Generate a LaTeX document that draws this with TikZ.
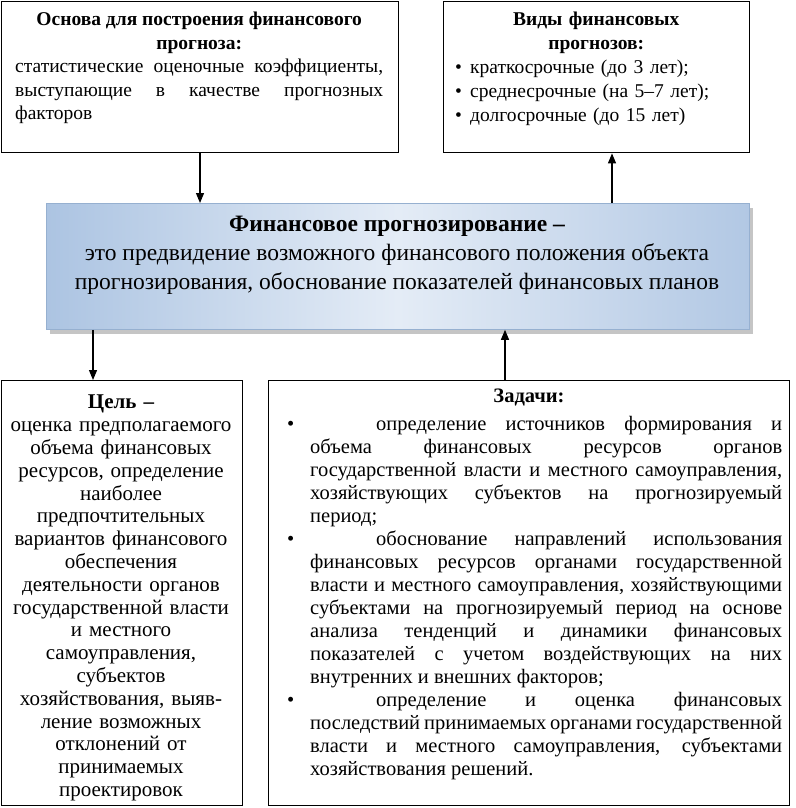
\documentclass[tikz,border=0pt]{standalone}
\usepackage{fontspec}
\setmainfont{Liberation Serif}
\usetikzlibrary{arrows.meta,shadows}
\definecolor{cleft}{RGB}{172,196,226}
\definecolor{cmid}{RGB}{228,236,246}
\definecolor{cright}{RGB}{178,200,228}
\definecolor{cborder}{RGB}{150,176,208}
\begin{document}
\begin{tikzpicture}[x=1pt,y=-1pt,
  frame/.style={draw=black, line width=1.4pt, anchor=north west, inner sep=0pt},
  mainbox/.style={draw=cborder, line width=0.8pt, anchor=north west, inner sep=0pt,
    left color=cleft, right color=cright, middle color=cmid,
    drop shadow={shadow xshift=4pt, shadow yshift=-5pt, fill=black!45}},
  arr/.style={line width=1.2pt, -{Triangle[length=10pt,width=8pt]}},
  txt/.style={inner sep=0pt, font=\fontsize{19.5}{23.5}\selectfont},
  goaltxt/.style={inner sep=0pt, font=\fontsize{21}{22.8}\selectfont},
  tasktxt/.style={inner sep=0pt, font=\fontsize{20.5}{23}\selectfont},
  bigtxt/.style={inner sep=0pt, font=\fontsize{23.5}{29}\selectfont}
]
\useasboundingbox (0,0) rectangle (795,808);
\fill[white] (0,0) rectangle (795,808);

% frames
\node[frame, minimum width=397pt, minimum height=151pt] (b1) at (1,1) {};
\node[frame, minimum width=306pt, minimum height=151pt] (b2) at (443,1) {};
\node[mainbox, minimum width=703pt, minimum height=126pt] (main) at (46,203) {};
\node[frame, minimum width=241pt, minimum height=425pt] (goal) at (1,380) {};
\node[frame, minimum width=521pt, minimum height=425pt] (tasks) at (268,380) {};

% texts
\node[txt, anchor=north west, text width=368pt, align=justify] (t1) at (15,12) {%
  \parindent=0pt
  {\centering\bfseries Основа для построения финансового\\ прогноза:\par}
  статистические оценочные коэффициенты,\linebreak
  выступающие в качестве прогнозных\linebreak
  факторов};

\node[txt, anchor=north west, text width=282pt, font=\fontsize{19.5}{24}\selectfont] (t2) at (455,12) {%
  \parindent=0pt
  {\centering\bfseries Виды финансовых\\ прогнозов:\par}
  \raggedright
  \makebox[15pt][l]{•}краткосрочные (до 3 лет);\\
  \makebox[15pt][l]{•}среднесрочные (на 5–7 лет);\\
  \makebox[15pt][l]{•}долгосрочные (до 15 лет)};

\node[bigtxt, anchor=north, align=center] (t3) at (397,216) {%
  {\bfseries Финансовое прогнозирование –}\\
  это предвидение возможного финансового положения объекта\\
  прогнозирования, обоснование показателей финансовых планов};

\node[goaltxt, anchor=north, text width=238pt, align=center] (t4) at (121,395) {%
  {\bfseries Цель –}\\
  оценка предполагаемого\\ объема финансовых\\ ресурсов, определение\\ наиболее\\
  предпочтительных\\ вариантов финансового\\ обеспечения\\ деятельности органов\\
  государственной власти\\ и местного\\ самоуправления,\\ субъектов\\
  хозяйствования, выяв-\\ ление возможных\\ отклонений от\\ принимаемых\\ проектировок};

\node[tasktxt, anchor=north, font=\fontsize{20.5}{23}\selectfont\bfseries] (t5) at (529,389) {Задачи:};

\node[tasktxt, anchor=north west, text width=472pt, align=justify] (t6) at (310,416) {%
  \parindent=0pt
  \noindent\llap{\makebox[23pt][l]{•}}\hspace*{66pt}определение источников формирования и\linebreak
  объема финансовых ресурсов органов\linebreak
  государственной власти и местного самоуправления,\linebreak
  хозяйствующих субъектов на прогнозируемый\linebreak
  период;\par
  \noindent\llap{\makebox[23pt][l]{•}}\hspace*{66pt}обоснование направлений использования\linebreak
  финансовых ресурсов органами государственной\linebreak
  власти и местного самоуправления, хозяйствующими\linebreak
  субъектами на прогнозируемый период на основе\linebreak
  анализа тенденций и динамики финансовых\linebreak
  показателей с учетом воздействующих на них\linebreak
  внутренних и внешних факторов;\par
  \noindent\llap{\makebox[23pt][l]{•}}\hspace*{66pt}определение и оценка финансовых\linebreak
  последствий принимаемых органами государственной\linebreak
  власти и местного самоуправления, субъектами\linebreak
  хозяйствования решений.};

% connectors
\coordinate (x1) at (200,0);
\coordinate (x2) at (612,0);
\coordinate (x3) at (93,0);
\coordinate (x4) at (505,0);
\draw[arr] (b1.south -| x1) -- (main.north -| x1);
\draw[arr] (main.north -| x2) -- (b2.south -| x2);
\draw[arr] (main.south -| x3) -- (goal.north -| x3);
\draw[arr] (tasks.north -| x4) -- (main.south -| x4);
\end{tikzpicture}
\end{document}
